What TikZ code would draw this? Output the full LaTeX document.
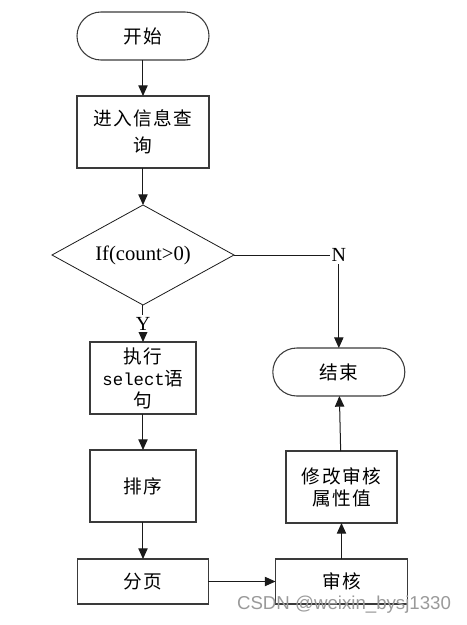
\documentclass[tikz,border=0pt]{standalone}
\usepackage{fontspec}
\usepackage{tikz}
\usetikzlibrary{arrows.meta,positioning,shapes.geometric,shapes.misc}
\setmainfont{Liberation Serif}
\setmonofont{Liberation Mono}
\newfontfamily\cjkfont{Noto Sans CJK SC}[LetterSpace=8]
\newfontfamily\markfont{Liberation Sans}
\definecolor{edge}{HTML}{3A3A3A}
\definecolor{ink}{HTML}{1A1A1A}
\definecolor{wmgray}{HTML}{9A9A9A}

\begin{document}
\begin{tikzpicture}[
  node distance=27pt and 50pt,
  term/.style={draw=edge, line width=0.8pt, rounded rectangle, minimum width=99pt, minimum height=36pt, inner sep=0pt, outer sep=0pt, align=center, font=\cjkfont\fontsize{14}{16.5}\selectfont},
  proc/.style={draw=edge, line width=0.9pt, rectangle, minimum width=99pt, minimum height=54pt, inner sep=1pt, outer sep=0pt, align=center, font=\cjkfont\fontsize{14}{16.5}\selectfont},
  decide/.style={draw=ink, line width=0.6pt, diamond, shape aspect=1.82, minimum width=136.5pt, minimum height=75pt, inner sep=0pt, outer sep=0pt, font=\fontsize{15.5}{18}\selectfont},
  lbl/.style={fill=white, inner sep=1.5pt, font=\fontsize{15}{18}\selectfont},
  arrow/.style={-{Triangle[length=8pt,width=7pt]}, line width=0.75pt, draw=ink}
]
  \useasboundingbox (-107.25pt,27pt) rectangle (243pt,-441.75pt);

  \node[term] (start) at (0,0) {开始};
  \node[proc, below=27pt of start] (query) {进入信息查\\[4pt]询};
  \node[decide, below=27.75pt of query] (check) {If(count>0)};
  \node[proc, minimum width=79.5pt, below=27.75pt of check] (exec) {执行\\{\ttfamily\fontsize{13}{16.5}\selectfont select}语\\句};
  \node[proc, minimum width=79.5pt, below=27pt of exec] (sort) {排序};
  \node[proc, minimum width=98.25pt, minimum height=33.75pt, below=27.75pt of sort] (paging) {分页};

  \node[proc, minimum height=33.75pt, right=50.25pt of paging] (audit) {审核};
  \node[proc, minimum width=83.25pt, above=27pt of audit] (modify) {修改审核\\属性值};
  \node[term, above=41.25pt of modify, xshift=-2pt] (finish) {结束};

  \draw[arrow] (start) -- (query);
  \draw[arrow] (query) -- (check);
  \draw[arrow] (check) -- node[lbl] {Y} (exec);
  \draw[arrow] (check) -| node[lbl, pos=0.5] {N} (finish);
  \draw[arrow] (exec) -- (sort);
  \draw[arrow] (sort) -- (paging);
  \draw[arrow] (paging) -- (audit);
  \draw[arrow] (audit) -- (modify);
  \draw[arrow] (modify) -- (finish);

  \node[text=wmgray, font=\markfont\fontsize{14}{16}\selectfont, inner sep=0pt, xshift=1.9pt, yshift=-0.75pt] (wmark) at (audit.south) {CSDN @weixin\_bysj1330};
\end{tikzpicture}
\end{document}
